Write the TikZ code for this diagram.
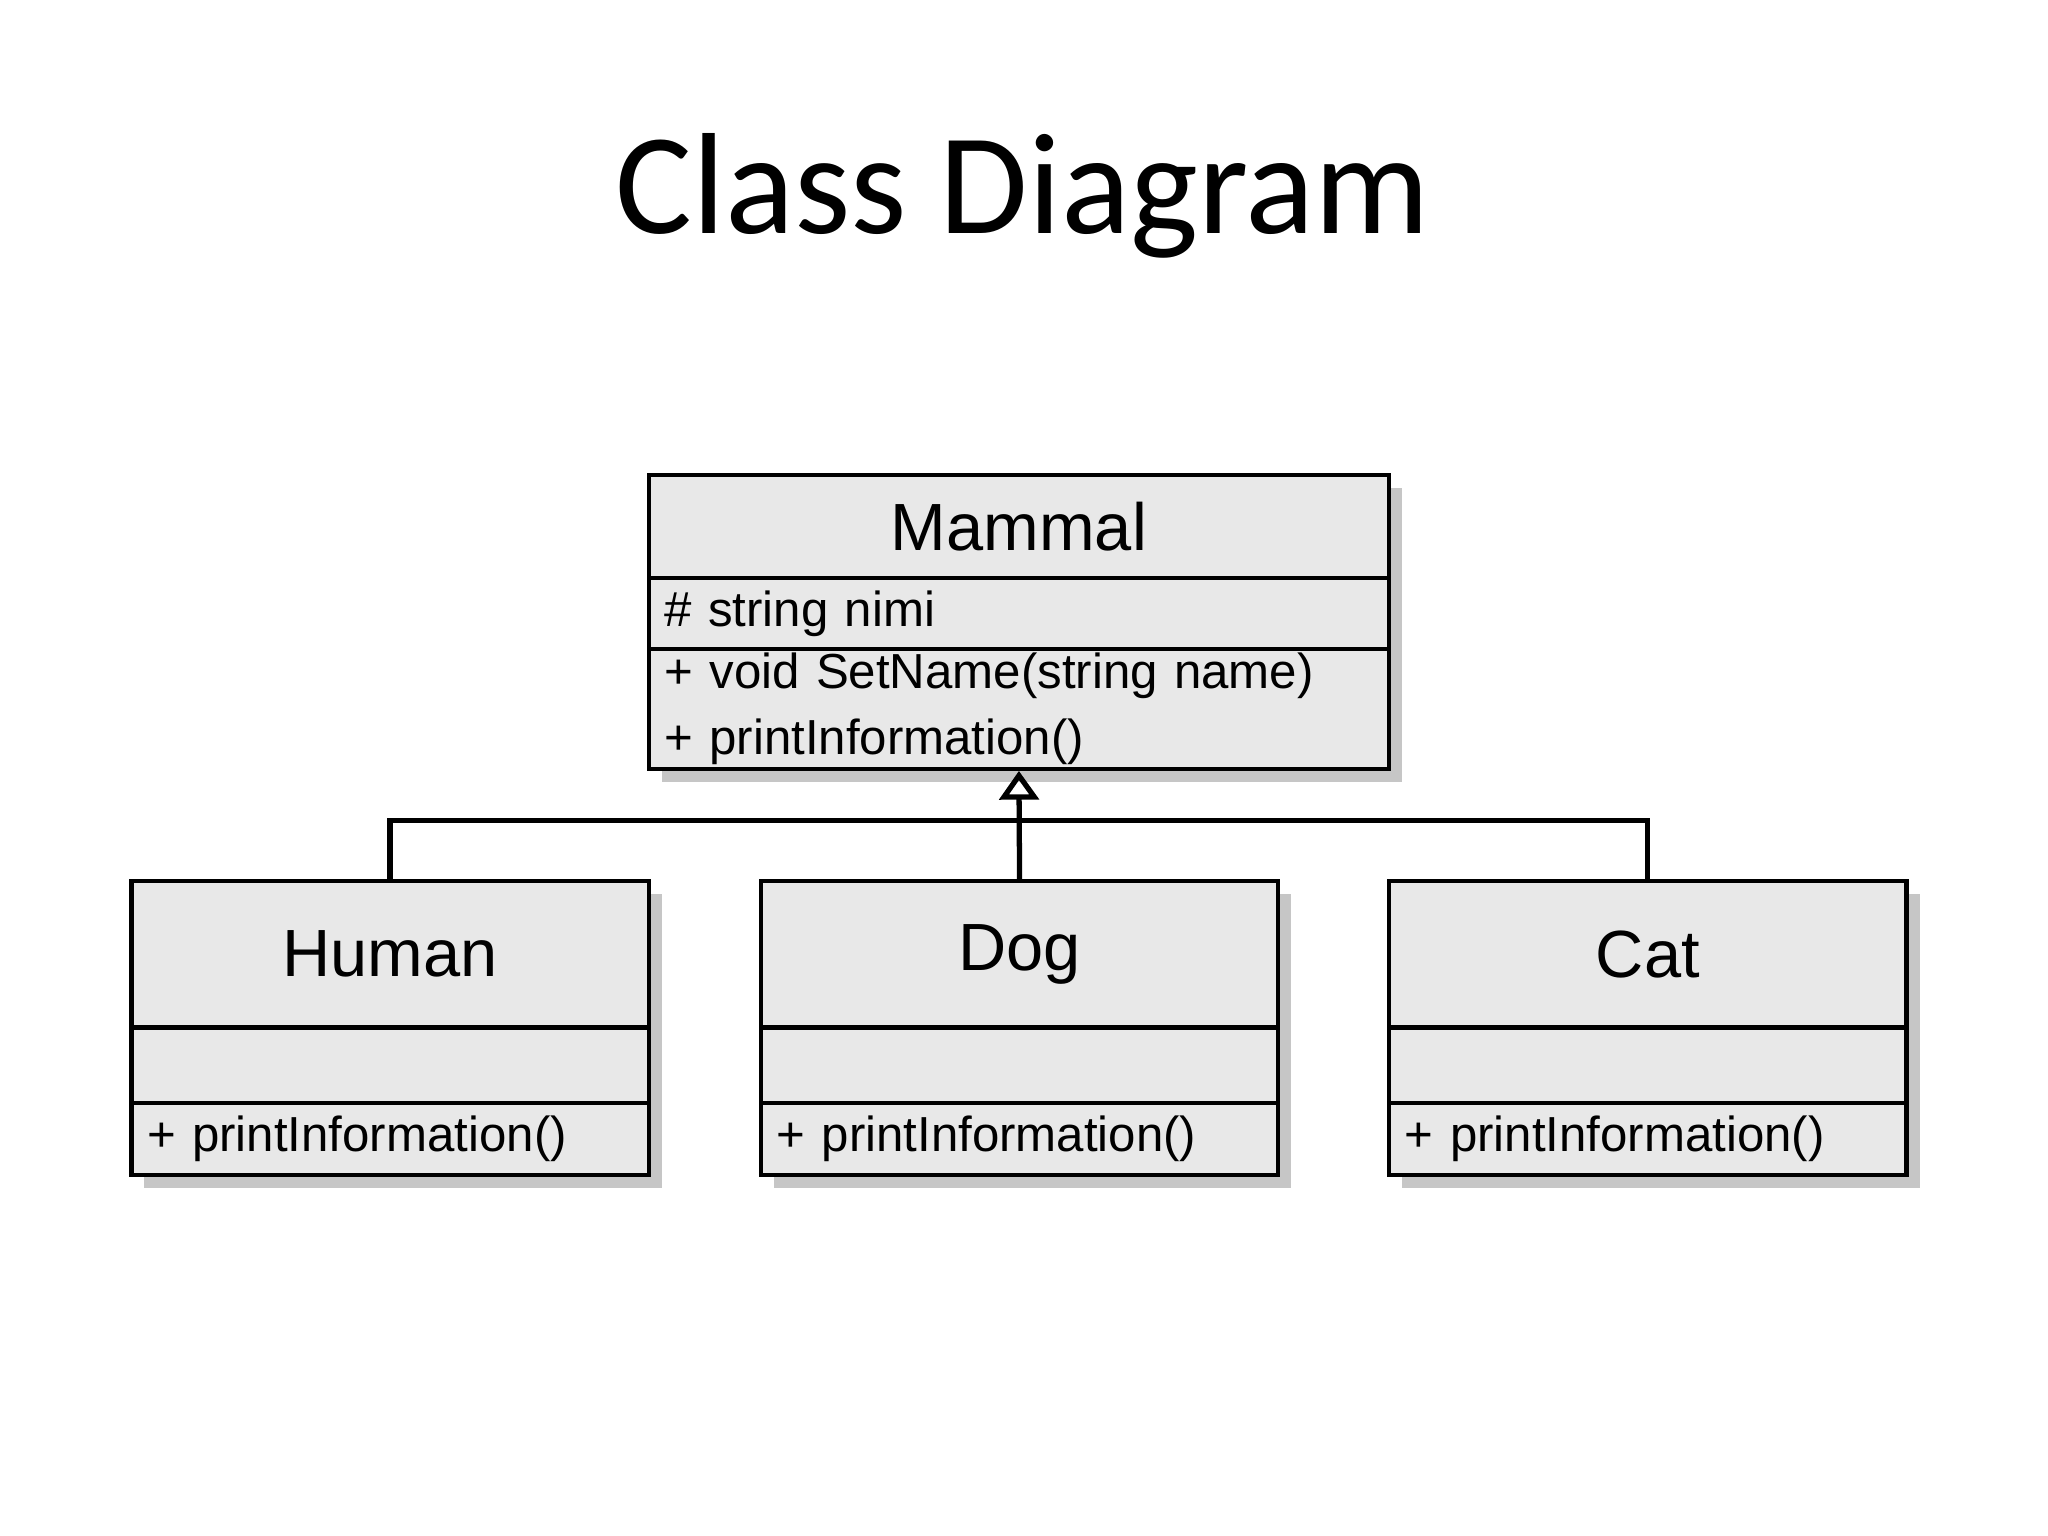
\documentclass[tikz,border=0pt]{standalone}
\usepackage{fontspec}
\setmainfont{Liberation Sans}
\newfontfamily\titlefont{Carlito}
\usetikzlibrary{arrows.meta,positioning,shadows}
\newcommand\px{0.013061cm}
\begin{document}
\begin{tikzpicture}[x=\px, y=-\px,
    sect/.style={draw, line width=1.2pt, fill=gray!18, anchor=north west,
      drop shadow={shadow xshift=10*\px, shadow yshift=-10*\px, fill=gray!45, opacity=1},
      inner sep=0pt},
    cname/.style={sect, font=\fontsize{19}{22}\selectfont},
    member/.style={sect, font=\fontsize{14}{19}\selectfont, align=left, inner xsep=12*\px},
    conn/.style={line width=1.5pt}]
  \useasboundingbox (0,0) rectangle (1568,1176);
  \node[font=\titlefont\fontsize{41}{48}\selectfont] (title) at (783,150) {Class Diagram};

  % base class
  \node[cname, minimum width=567*\px, minimum height=79*\px] (mammal) at (495,362) {Mammal};
  \node[member, minimum width=567*\px, minimum height=54*\px, text width=543*\px] (mammala) at (495,441) {\# string nimi};
  \node[member, minimum width=567*\px, minimum height=92*\px, text width=543*\px] (mammalm) at (495,495) {+ void SetName(string name)\\+ printInformation()};

  % subclasses
  \foreach \name/\lbl/\x in {human/Human/99, dog/Dog/581, cat/Cat/1062} {
    \node[cname, minimum width=396*\px, minimum height=112*\px] (\name) at (\x,673) {\lbl};
    \node[member, minimum width=396*\px, minimum height=58*\px, text width=372*\px] (\name a) at (\x,785) {};
    \node[member, minimum width=396*\px, minimum height=55*\px, text width=372*\px] (\name m) at (\x,843) {+ printInformation()};
  }

  % generalization
  \coordinate (bar) at (779,628);
  \draw[conn] (human.north) |- (bar) -| (cat.north);
  \draw[conn, -{Triangle[open, width=30*\px, length=22*\px]}] (dog.north) -- (mammalm.south);
\end{tikzpicture}
\end{document}
